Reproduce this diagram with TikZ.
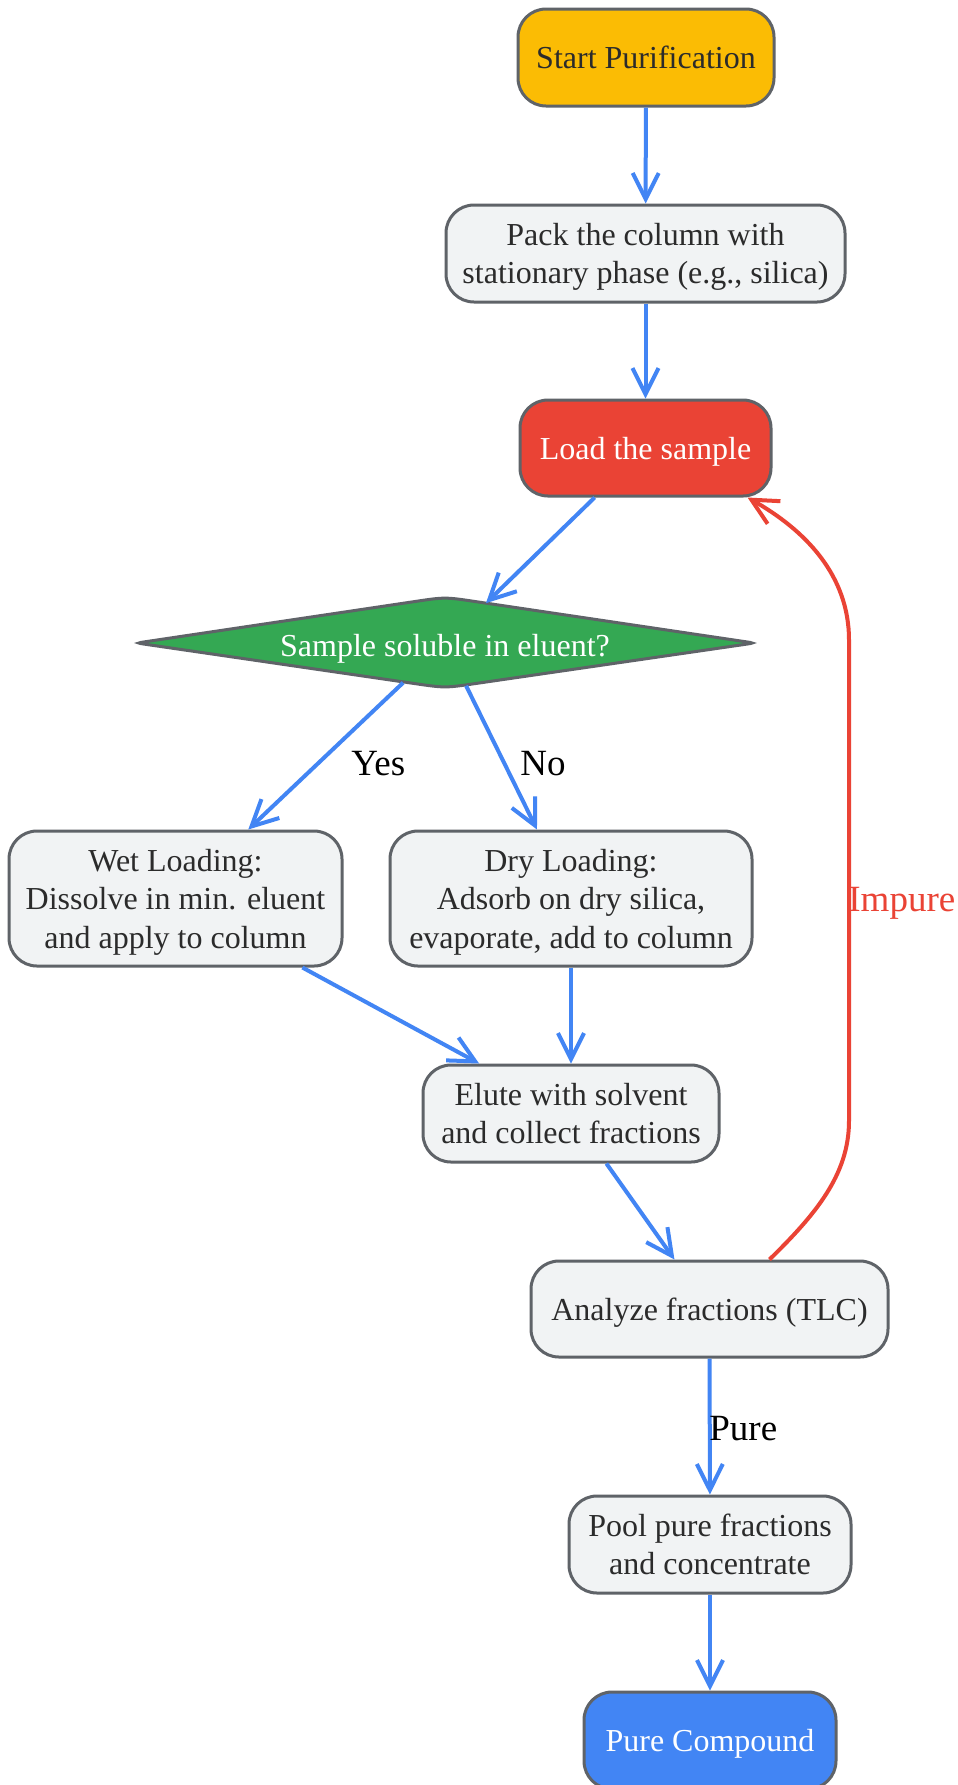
\documentclass[tikz,border=0pt]{standalone}
\usepackage{fontspec}
\setmainfont{Liberation Serif}
\usetikzlibrary{arrows.meta,shapes.geometric}
\definecolor{edgeblue}{HTML}{4285F4}
\definecolor{edgered}{HTML}{EA4335}
\definecolor{boxfill}{HTML}{F1F3F4}
\definecolor{boxline}{HTML}{5F6368}
\definecolor{txt}{HTML}{2B2B2B}
\definecolor{gyellow}{HTML}{FBBC04}
\definecolor{ggreen}{HTML}{34A853}
\newcommand{\mytopstrut}{\rule{0pt}{15.3pt}}
\newcommand{\mybotstrut}{\rule[-4.2pt]{0pt}{4.2pt}}
\begin{document}
\begin{tikzpicture}[x=0.5pt,y=-0.5pt,
 box/.style={draw=boxline, line width=1.5pt, fill=boxfill, rounded corners=14pt, align=center, inner sep=0pt,
   font=\fontsize{16}{19.2}\selectfont, text=txt,
   execute at begin node={\mytopstrut},
   execute at end node={\mybotstrut}},
 flow/.style={draw=edgeblue, line width=2pt, -{Straight Barb[length=13pt,width=13pt]}},
 back/.style={draw=edgered, line width=2pt, -{Straight Barb[length=13pt,width=13pt]}},
 lbl/.style={font=\fontsize{18.5}{22}\selectfont, text=black, inner sep=0pt, anchor=base west}]
\useasboundingbox (0,0) rectangle (958,1785);
\clip (0,0) rectangle (958,1785);
\fill[white] (0,0) rectangle (958,1785);

\node[box, fill=gyellow, minimum width=128pt, minimum height=48.5pt] (start) at (646,57.5) {Start Purification};
\node[box, minimum width=199.5pt, minimum height=48.5pt] (pack) at (645.5,253.5) {\mytopstrut Pack the column with\\stationary phase (e.g., silica)\mybotstrut};
\node[box, fill=edgered, text=white, minimum width=125.5pt, minimum height=48pt] (load) at (645.5,448) {Load the sample};

\path[draw=boxline, fill=ggreen, line width=1.5pt]
  (144.9,641.8) -- (414.3,601.6) .. controls (445,597) .. (475.7,601.6)
  -- (746.1,641.8) .. controls (754,643) .. (746.1,644.2)
  -- (475.7,683.5) .. controls (445,688) .. (414.3,683.5)
  -- (144.9,644.2) .. controls (137,643) .. (144.9,641.8) -- cycle;
\node[diamond, aspect=6.8, minimum width=308.5pt, minimum height=45.5pt, inner sep=0pt, text=white,
  text height=13pt, text depth=0pt, font=\fontsize{16}{19.2}\selectfont] (dia) at (445,643) {Sample soluble in eluent?};

\node[box, minimum width=166.5pt, minimum height=67.5pt] (wet) at (175.5,898.5) {\mytopstrut Wet Loading:\\Dissolve in min. eluent\\and apply to column\mybotstrut};
\node[box, minimum width=181pt, minimum height=67.5pt] (dry) at (571,898.5) {\mytopstrut Dry Loading:\\Adsorb on dry silica,\\evaporate, add to column\mybotstrut};
\node[box, minimum width=148pt, minimum height=48.5pt] (elute) at (571,1113.5) {\mytopstrut Elute with solvent\\and collect fractions\mybotstrut};
\node[box, minimum width=178.5pt, minimum height=48pt] (ana) at (709.5,1309) {Analyze fractions (TLC)};
\node[box, minimum width=141pt, minimum height=48.5pt] (pool) at (710,1544.5) {\mytopstrut Pool pure fractions\\and concentrate\mybotstrut};
\node[box, fill=edgeblue, text=white, minimum width=126pt, minimum height=48.5pt] (pure) at (710,1740.5) {Pure Compound};

\draw[flow] (start) -- (pack);
\draw[flow] (pack) -- (load);
\draw[flow] (load) -- (dia);
\draw[flow] (dia) -- (wet);
\draw[flow] (dia) -- (dry);
\draw[flow] (wet) -- (elute);
\draw[flow] (dry) -- (elute);
\draw[flow] (elute) -- (ana);
\draw[flow] (ana) -- (pool);
\draw[flow] (pool) -- (pure);
\draw[back] ([xshift=30pt]ana.north) .. controls (815,1215) and (849,1175) .. (849,1121)
  -- (849,640) .. controls (849,575) and (805,530) .. ([xshift=51pt]load.south);

\node[lbl] (yes) at (351,775) {Yes};
\node[lbl] (no) at (520,775) {No};
\node[lbl] (purelbl) at (709,1440) {Pure};
\node[lbl, text=edgered] (imp) at (848,911) {Impure};
\end{tikzpicture}
\end{document}
